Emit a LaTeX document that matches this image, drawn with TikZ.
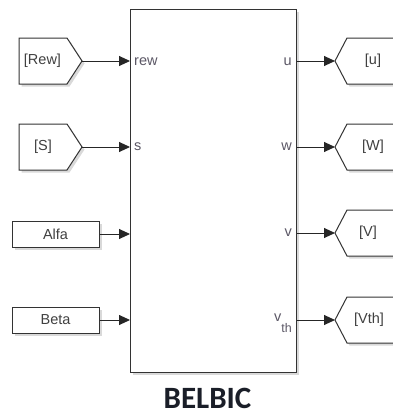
\documentclass[tikz,border=0pt]{standalone}
\usepackage{fontspec}
\setmainfont{Liberation Sans}
\newfontfamily\titlefont{Carlito}
\usetikzlibrary{arrows.meta,shadows}
\definecolor{portc}{HTML}{5C5866}
\definecolor{titlec}{HTML}{1A1E28}
\begin{document}
\begin{tikzpicture}[x=1pt,y=-1pt,
  blk/.style={draw=black!80, line width=1pt, fill=white,
    drop shadow={shadow xshift=2.5pt,shadow yshift=-2.5pt,opacity=0.3}},
  lbl/.style={font=\fontsize{14.5}{14.5}\selectfont, text=black!75, inner sep=0pt},
  port/.style={font=\fontsize{14.5}{14.5}\selectfont, text=portc, inner sep=0pt},
  arr/.style={draw=black!85, line width=0.9pt, -{Triangle[length=11pt,width=10pt]}}]
\useasboundingbox (0,0) rectangle (393,415);
\clip (0,0) rectangle (393,415);

% main block
\node[blk, minimum width=166pt, minimum height=363pt, inner sep=0pt, anchor=north west] (belbic) at (130,9) {};

% from tags
\draw[blk] (19,38) -- (67,38) -- (82,61) -- (67,84) -- (19,84) -- cycle;
\node[lbl] (rewtag) at (42.5,61) {[Rew]};
\coordinate (rewtip) at (82,61);
\draw[blk] (19,124) -- (67,124) -- (82,147) -- (67,170) -- (19,170) -- cycle;
\node[lbl] (stag) at (43,147) {[S]};
\coordinate (stip) at (82,147);

% constants
\node[blk, lbl, minimum width=87pt, minimum height=26pt] (alfa) at (55.5,234) {Alfa};
\node[blk, lbl, minimum width=87pt, minimum height=26pt] (beta) at (55.5,320) {Beta};

% goto tags
\draw[blk] (410,38) -- (347,38) -- (335,61) -- (347,84) -- (410,84);
\coordinate (utip) at (335,61);
\node[lbl] (utag) at (373,61) {[u]};
\draw[blk] (410,124) -- (347,124) -- (335,147) -- (347,170) -- (410,170);
\coordinate (wtip) at (335,147);
\node[lbl] (wtag) at (373,147) {[W]};
\draw[blk] (410,210) -- (347,210) -- (335,233) -- (347,256) -- (410,256);
\coordinate (vtip) at (335,233);
\node[lbl] (vtag) at (368,233) {[V]};
\draw[blk] (410,297) -- (347,297) -- (335,320) -- (347,343) -- (410,343);
\coordinate (vthtip) at (335,320);
\node[lbl] (vthtag) at (369,320) {[Vth]};

% port labels
\node[port, anchor=west] (prew) at (134,62) {rew};
\node[port, anchor=west] (ps) at (134,147) {s};
\node[port, anchor=east] (pu) at (292,62) {u};
\node[port, anchor=east] (pw) at (292,147) {w};
\node[port, anchor=east] (pv) at (292,233) {v};
\node[port, anchor=base east] (pvth) at (292,321) {v\raisebox{-11pt}{\fontsize{12.5}{12.5}\selectfont th}};

% connectors
\draw[arr] (rewtip) -- (rewtip -| belbic.west);
\draw[arr] (stip) -- (stip -| belbic.west);
\draw[arr] (alfa.east) -- (alfa.east -| belbic.west);
\draw[arr] (beta.east) -- (beta.east -| belbic.west);
\draw[arr] (utip -| belbic.east) -- (utip);
\draw[arr] (wtip -| belbic.east) -- (wtip);
\draw[arr] (vtip -| belbic.east) -- (vtip);
\draw[arr] (vthtip -| belbic.east) -- (vthtip);

% title
\node[font=\titlefont\bfseries\fontsize{31}{31}\selectfont, text=titlec, inner sep=0pt] (title) at (207.5,398.5) {BELBIC};
\end{tikzpicture}
\end{document}
